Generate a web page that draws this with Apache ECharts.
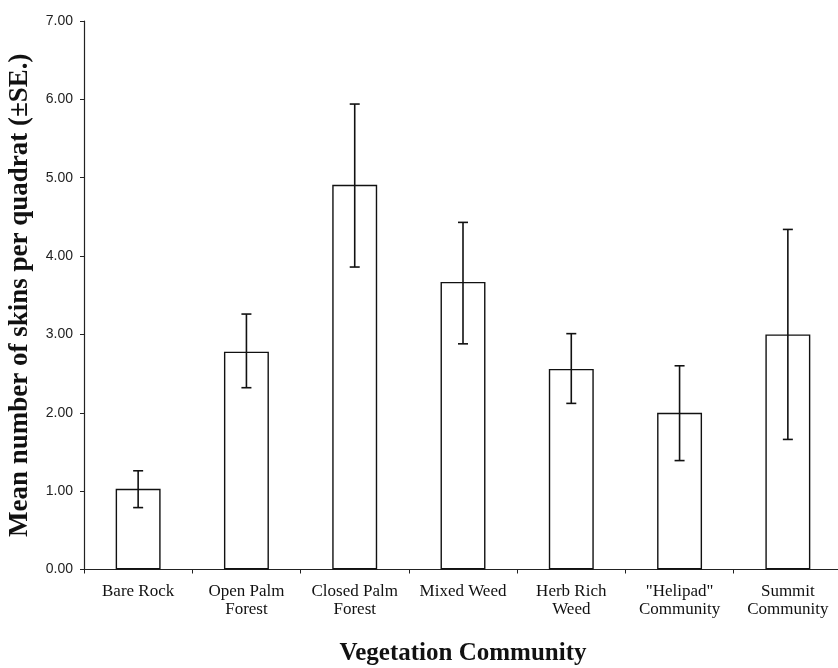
<!DOCTYPE html>
<html>
<head>
<meta charset="utf-8">
<script src="https://cdn.jsdelivr.net/npm/echarts@6/dist/echarts.min.js"></script>
<style>html,body{margin:0;padding:0;background:#fff}#c{width:838px;height:668px}</style>
</head>
<body>
<div id="c"></div>
<script>
var categories = ['Bare Rock', 'Open Palm\nForest', 'Closed Palm\nForest', 'Mixed Weed', 'Herb Rich\nWeed', '"Helipad"\nCommunity', 'Summit\nCommunity'];
var means = [1.03, 2.78, 4.91, 3.67, 2.56, 2.00, 3.00];
var upperSE = [1.26, 3.26, 5.94, 4.43, 3.01, 2.60, 4.34];
var lowerSE = [0.79, 2.32, 3.86, 2.88, 2.12, 1.39, 1.66];
var yTicks = { min: 0, max: 7, interval: 1 };

var errData = categories.map(function (c, i) { return [i, lowerSE[i], upperSE[i]]; });

var chart = echarts.init(document.getElementById('c'), null, { renderer: 'canvas' });
chart.setOption({
  animation: false,
  backgroundColor: '#fff',
  grid: { left: 84, right: -4, top: 21, bottom: 98.5, containLabel: false, outerBoundsMode: 'none' },
  xAxis: {
    type: 'category',
    data: categories,
    boundaryGap: true,
    axisLine: { lineStyle: { color: '#222', width: 1.2 } },
    axisTick: { show: true, inside: false, length: 4, lineStyle: { color: '#222' } },
    axisLabel: { fontFamily: 'Liberation Serif', fontSize: 17, color: '#111', lineHeight: 18, margin: 13, interval: 0 },
    name: 'Vegetation Community',
    nameLocation: 'middle',
    nameGap: 72,
    nameTextStyle: { fontFamily: 'Liberation Serif', fontWeight: 'bold', fontSize: 25, color: '#111' }
  },
  yAxis: {
    type: 'value',
    min: yTicks.min, max: yTicks.max, interval: yTicks.interval,
    splitLine: { show: false },
    axisLine: { show: true, lineStyle: { color: '#222', width: 1.2 } },
    axisTick: { show: true, inside: false, length: 4, lineStyle: { color: '#222' } },
    axisLabel: { fontFamily: 'Liberation Sans', fontSize: 14, color: '#222', margin: 11, formatter: function (v) { return v.toFixed(2); } },
    name: 'Mean number of skins per quadrat (\u00b1SE.)',
    nameLocation: 'middle',
    nameGap: 50,
    nameRotate: 90,
    nameTextStyle: { fontFamily: 'Liberation Serif', fontWeight: 'bold', fontSize: 27, color: '#111' }
  },
  series: [
    {
      type: 'bar',
      data: means,
      barWidth: '41.5%',
      itemStyle: { color: '#fff', borderColor: '#111', borderWidth: 1.4 },
      z: 2
    },
    {
      type: 'custom',
      data: errData,
      z: 5,
      renderItem: function (params, api) {
        var x = api.value(0);
        var lo = api.coord([x, api.value(1)]);
        var hi = api.coord([x, api.value(2)]);
        var hw = 5;
        var st = { stroke: '#111', lineWidth: 1.6 };
        return {
          type: 'group',
          children: [
            { type: 'line', shape: { x1: hi[0], y1: hi[1], x2: lo[0], y2: lo[1] }, style: st },
            { type: 'line', shape: { x1: hi[0] - hw, y1: hi[1], x2: hi[0] + hw, y2: hi[1] }, style: st },
            { type: 'line', shape: { x1: lo[0] - hw, y1: lo[1], x2: lo[0] + hw, y2: lo[1] }, style: st }
          ]
        };
      }
    }
  ]
});
</script>
</body>
</html>
